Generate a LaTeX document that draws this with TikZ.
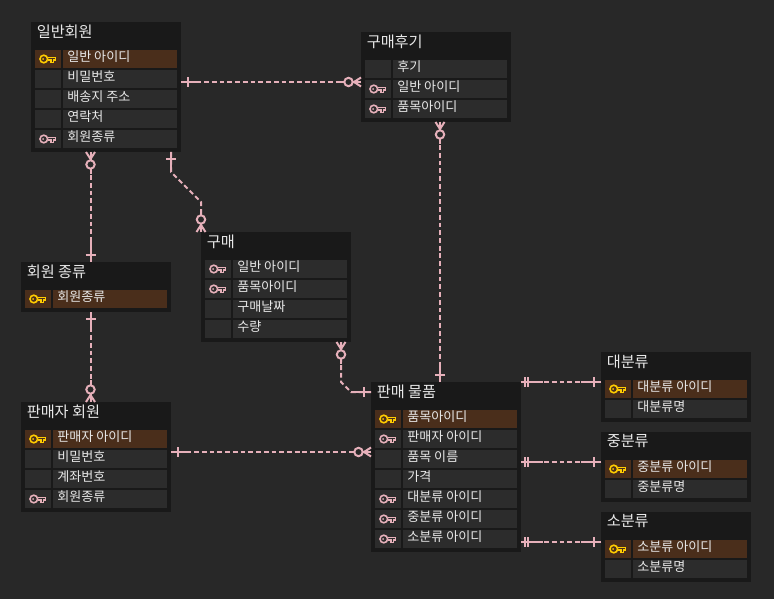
\documentclass[tikz,border=0pt]{standalone}
\usepackage{fontspec}
\usetikzlibrary{positioning}
\setmainfont{Noto Sans CJK KR}
\definecolor{bgc}{HTML}{282828}
\definecolor{boxc}{HTML}{191919}
\definecolor{cellc}{HTML}{2C2C2C}
\definecolor{pkc}{HTML}{4A2E1B}
\definecolor{linkc}{HTML}{E6B0BA}
\definecolor{goldc}{HTML}{FFCC00}
\definecolor{txtc}{HTML}{E8E8E8}
\tikzset{
  entbox/.style={fill=boxc,anchor=north west,minimum width=112.5pt,inner sep=0pt,outer sep=0pt},
  enttitle/.style={anchor=west,text=txtc,inner sep=0pt,font=\fontsize{11.4}{13}\selectfont},
  celltxt/.style={anchor=west,text=txtc,inner sep=0pt,font=\fontsize{9.8}{11}\selectfont},
  cellbase/.style={anchor=north west,inner sep=0pt,outer sep=0pt,minimum height=13.5pt},
  cellp/.style={cellbase,fill=pkc},
  cellf/.style={cellbase,fill=cellc},
  celln/.style={cellbase,fill=cellc},
  link/.style={linkc,line width=1.5pt},
  dashlink/.style={link,dash pattern=on 3.6pt off 2.2pt},
  pics/keyicon/.style={code={
    \draw[#1,line width=1.2pt] (-4.2,0) circle (3.8);
    \fill[#1] (-4.8,0) circle (1);
    \draw[#1,line width=1.2pt,line join=miter] (-0.4,-1.6)--(7.5,-1.6)--(7.5,1.2)--(6.4,1.2)--(5.4,1.2)--(5.4,3.4)--(3,3.4)--(3,1.2)--(-0.4,1.2);
  }},
  pics/keyp/.style={code={\pic{keyicon=goldc};}},
  pics/keyf/.style={code={\pic{keyicon=linkc};}},
  pics/keyn/.style={code={}},
  pics/bar/.style={code={
    \draw[link] (0,0)--(20,0);
    \draw[link] (7,-5)--(7,5);
  }},
  pics/dbar/.style={code={
    \draw[link] (0,0)--(22,0);
    \draw[link] (4,-5)--(4,5);
    \draw[link] (7,-5)--(7,5);
  }},
  pics/crowo/.style={code={
    \draw[link] (0,0)--(22,0);
    \draw[link] (0,-4.5)--(7,0)--(0,4.5);
    \draw[link,fill=bgc] (12.5,0) circle (4.2);
  }},
}
% #1 name, #2 x, #3 y, #4 height, #5 title, #6 rows
\newcommand{\entity}[6]{
  \node[entbox,minimum height=#4*0.75pt] (#1) at (#2,#3) {};
  \node[enttitle] (#1-title) at (#2+5.5,#3+9.5) {#5};
  \foreach \kind/\lab [count=\i] in {#6}{
    \node[cell\kind,minimum width=19.5pt] (#1-key\i) at (#2+4,#3+8+20*\i) {};
    \node[cell\kind,minimum width=85.5pt] (#1-row\i) at (#2+32,#3+8+20*\i) {};
    \node[celltxt] (#1-lab\i) at (#2+36,#3+14.5+20*\i) {\lab};
    \pic at (#1-key\i.center) {key\kind};
  }
}
\begin{document}
\begin{tikzpicture}[x=0.75pt,y=-0.75pt]
\fill[bgc] (0,0) rectangle (774,599);
\useasboundingbox (0,0) rectangle (774,599);
\entity{member}{31}{22}{130}{일반회원}{p/일반 아이디,n/비밀번호,n/배송지 주소,n/연락처,f/회원종류}
\entity{review}{361}{32}{90}{구매후기}{n/후기,f/일반 아이디,f/품목아이디}
\entity{grade}{21}{262}{50}{회원 종류}{p/회원종류}
\entity{buy}{201}{232}{110}{구매}{f/일반 아이디,f/품목아이디,n/구매날짜,n/수량}
\entity{seller}{21}{402}{110}{판매자 회원}{p/판매자 아이디,n/비밀번호,n/계좌번호,f/회원종류}
\entity{item}{371}{382}{170}{판매 물품}{p/품목아이디,f/판매자 아이디,n/품목 이름,n/가격,f/대분류 아이디,f/중분류 아이디,f/소분류 아이디}
\entity{large}{601}{352}{70}{대분류}{p/대분류 아이디,n/대분류명}
\entity{middle}{601}{432}{70}{중분류}{p/중분류 아이디,n/중분류명}
\entity{small}{601}{512}{70}{소분류}{p/소분류 아이디,n/소분류명}
% connectors
\draw[dashlink] ([shift={(0,-5)}]member.east) coordinate (a1) -- ([shift={(0,5)}]review.west) coordinate (b1);
\draw[dashlink] ([shift={(-15.5,0)}]member.south) coordinate (a2) -- ([shift={(-5.5,0)}]grade.north) coordinate (b2);
\draw[dashlink] ([shift={(-10,0)}]member.south east) coordinate (a3) -- +(0,20) -- +(30,50) -- (buy.north west) coordinate (b3);
\draw[dashlink] ([shift={(4,0)}]review.south) coordinate (a4) -- ([shift={(-6,0)}]item.north) coordinate (b4);
\draw[dashlink] ([shift={(-5.5,0)}]grade.south) coordinate (a5) -- ([shift={(-5.5,0)}]seller.north) coordinate (b5);
\draw[dashlink] ([shift={(-10,0)}]buy.south east) coordinate (a6) -- +(0,40) -- +(10,50) -- ([shift={(0,10)}]item.north west) coordinate (b6);
\draw[dashlink] ([shift={(0,-5)}]seller.east) coordinate (a7) -- ([shift={(0,-15)}]item.west) coordinate (b7);
\draw[dashlink] (item.north east) coordinate (a8) -- ([shift={(0,-5)}]large.west) coordinate (b8);
\draw[dashlink] ([shift={(0,-5)}]item.east) coordinate (a9) -- ([shift={(0,-5)}]middle.west) coordinate (b9);
\draw[dashlink] ([shift={(0,-10)}]item.south east) coordinate (a10) -- ([shift={(0,-5)}]small.west) coordinate (b10);
% line ends
\foreach \p/\ang/\kind in {a1/0/bar,b1/180/crowo,a2/-90/crowo,b2/90/bar,a3/-90/bar,b3/90/crowo,a4/-90/crowo,b4/90/bar,
  a5/-90/bar,b5/90/crowo,a6/-90/crowo,b6/180/bar,a7/0/bar,b7/180/crowo,a8/0/dbar,b8/180/bar,a9/0/dbar,b9/180/bar,a10/0/dbar,b10/180/bar}
  \pic[rotate=\ang] at (\p) {\kind};
\end{tikzpicture}
\end{document}
